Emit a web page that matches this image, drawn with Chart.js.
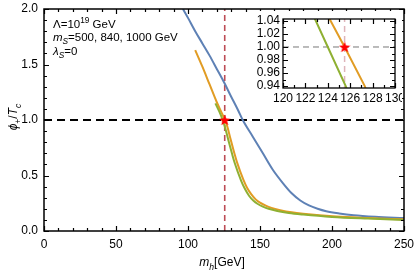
<!DOCTYPE html>
<html>
<head>
<meta charset="utf-8">
<script src="https://cdn.jsdelivr.net/npm/chart.js@4.4.1/dist/chart.umd.min.js"></script>
<style>
  html, body { margin: 0; padding: 0; background: #fff; }
  #wrap { position: relative; width: 415px; height: 274px; }
  #mainChart { position: absolute; left: 0; top: 0; }
  #insetBox { position: absolute; left: 252px; top: 11px; width: 150px; height: 92px; background: #fff; overflow: hidden; }
</style>
</head>
<body>
<div id="wrap">
  <canvas id="mainChart" width="415" height="274"></canvas>
  <div id="insetBox"><canvas id="insetChart" width="150" height="92"></canvas></div>
</div>
<script>
// curves (m_h in GeV, phi+/Tc)
const blueX   = [96.5, 100, 105, 110, 115, 120, 125, 130, 134.7, 138, 145, 152, 159, 166, 172, 178, 184, 190, 196, 205, 215, 230, 250] ;
const blueY   = [2.0, 1.92, 1.80, 1.69, 1.58, 1.46, 1.34, 1.21, 1.09, 1.0, 0.85, 0.70, 0.55, 0.43, 0.34, 0.275, 0.23, 0.20, 0.178, 0.158, 0.142, 0.128, 0.116] ;
const orangeX = [105, 110, 115, 120, 124.1, 125.5, 127.3, 129.5, 132, 134, 138.5, 141, 144, 147, 150, 154, 158, 164, 172, 180, 203, 225, 250] ;
const orangeY = [1.63, 1.48, 1.32, 1.16, 1.045, 1.0, 0.94, 0.83, 0.71, 0.62, 0.46, 0.39, 0.33, 0.285, 0.255, 0.228, 0.208, 0.188, 0.168, 0.155, 0.13, 0.117, 0.105] ;
const greenX  = [119, 122.8, 124.0, 125.6, 128, 130.5, 132.5, 137, 139.5, 142.5, 145.5, 148.5, 152, 156, 162, 170, 180, 200, 225, 250] ;
const greenY  = [1.15, 1.045, 1.0, 0.94, 0.82, 0.70, 0.61, 0.45, 0.38, 0.315, 0.272, 0.243, 0.22, 0.20, 0.18, 0.162, 0.148, 0.127, 0.112, 0.10] ;

// reference lines and the marked point
const higgsMass = 125.5 ;
const refY = 1.0 ;
const starX = [125.5] ;
const starY = [1.0] ;

// axis ticks
const xTicksMain = [0, 50, 100, 150, 200, 250] ;
const yTicksMain = [0, 0.5, 1.0, 1.5, 2.0] ;
const xTicksInset = [120, 122, 124, 126, 128, 130] ;
const yTicksInset = [0.94, 0.96, 0.98, 1.00, 1.02, 1.04] ;

const BLUE = '#5e81b5' ;
const ORANGE = '#e19c24' ;
const GREEN = '#8fb032' ;
const FONT = '"Liberation Sans", Arial, Helvetica, sans-serif' ;

function toPoints(xs, ys) {
    return xs.map((x, i) => ({x: x, y: ys[i]})) ;
}

// filled red star for the point marker
function makeStar(size) {
    const c = document.createElement('canvas') ;
    c.width = size ; c.height = size ;
    const g = c.getContext('2d') ;
    const cx = size / 2, cy = size / 2 + 0.5 ;
    const R = size / 2, r = R * 0.42 ;
    g.beginPath() ;
    for (let i = 0; i < 10; i++) {
        const rad = i % 2 === 0 ? R : r ;
        const a = -Math.PI / 2 + i * Math.PI / 5 ;
        const px = cx + rad * Math.cos(a), py = cy + rad * Math.sin(a) ;
        if (i === 0) g.moveTo(px, py) ; else g.lineTo(px, py) ;
    }
    g.closePath() ;
    g.fillStyle = '#ff0000' ;
    g.fill() ;
    return c ;
}

function curve(label, xs, ys, color) {
    return {
        label: label,
        data: toPoints(xs, ys),
        borderColor: color,
        borderWidth: 2,
        pointRadius: 0,
        showLine: true,
        cubicInterpolationMode: 'monotone',
        clip: 0,
    } ;
}

// draws a string with italic / sub / sup pieces
function richText(ctx, parts, x, y, size, align) {
    let w = 0 ;
    parts.forEach(p => {
        const s = p.sub || p.sup ? size * 0.72 : size ;
        ctx.font = (p.italic ? 'italic ' : '') + s + 'px ' + FONT ;
        p.w = ctx.measureText(p.t).width ;
        w += p.w ;
    }) ;
    let cx = align === 'center' ? x - w / 2 : x ;
    ctx.textAlign = 'left' ;
    ctx.textBaseline = 'alphabetic' ;
    parts.forEach(p => {
        const s = p.sub || p.sup ? size * 0.72 : size ;
        ctx.font = (p.italic ? 'italic ' : '') + s + 'px ' + FONT ;
        let dy = 0 ;
        if (p.sub) dy = size * 0.3 ;
        if (p.sup) dy = -size * 0.42 ;
        ctx.fillText(p.t, cx, y + dy) ;
        cx += p.w ;
    }) ;
}

// frame with inward ticks on all four sides
function frameTicks(chart, xMajor, xMinor, yMajor, yMinor, lw) {
    const ctx = chart.ctx ;
    const a = chart.chartArea ;
    const xs = chart.scales.x, ys = chart.scales.y ;
    const px = v => a.left + (v - xs.min) / (xs.max - xs.min) * (a.right - a.left) ;
    const py = v => a.bottom - (v - ys.min) / (ys.max - ys.min) * (a.bottom - a.top) ;
    ctx.save() ;
    ctx.setLineDash([]) ;
    ctx.strokeStyle = '#000000' ;
    ctx.lineWidth = 1.2 ;
    ctx.beginPath() ;
    const tickX = (v, len) => {
        const p = Math.round(px(v)) + 0.5 ;
        ctx.moveTo(p, a.bottom) ; ctx.lineTo(p, a.bottom - len) ;
        ctx.moveTo(p, a.top) ; ctx.lineTo(p, a.top + len) ;
    } ;
    const tickY = (v, len) => {
        const p = Math.round(py(v)) + 0.5 ;
        ctx.moveTo(a.left, p) ; ctx.lineTo(a.left + len, p) ;
        ctx.moveTo(a.right, p) ; ctx.lineTo(a.right - len, p) ;
    } ;
    for (const v of xMinor) tickX(v, 3) ;
    for (const v of xMajor) tickX(v, 5) ;
    for (const v of yMinor) tickY(v, 3) ;
    for (const v of yMajor) tickY(v, 5) ;
    ctx.stroke() ;
    ctx.lineWidth = lw ;
    ctx.strokeRect(a.left, a.top, a.right - a.left, a.bottom - a.top) ;
    ctx.restore() ;
}

function range(a, b, step) {
    const out = [] ;
    const n = Math.round((b - a) / step) ;
    for (let i = 0; i <= n; i++) out.push(a + i * step) ;
    return out ;
}

const mainDecor = {
    id: 'mainDecor',
    afterDraw(chart) {
        frameTicks(chart, xTicksMain, range(0, 250, 10), yTicksMain, range(0, 2, 0.1), 1.5) ;
        const ctx = chart.ctx ;
        ctx.save() ;
        ctx.fillStyle = '#000' ;
        richText(ctx, [{t: 'Λ=10'}, {t: '19', sup: true}, {t: ' GeV'}], 53, 28, 11.5, 'left') ;
        richText(ctx, [{t: 'm', italic: true}, {t: 'S', italic: true, sub: true}, {t: '=500, 840, 1000 GeV'}], 53, 41, 11.5, 'left') ;
        richText(ctx, [{t: 'λ', italic: true}, {t: 'S', italic: true, sub: true}, {t: '=0'}], 53, 55, 11.5, 'left') ;
        richText(ctx, [{t: 'm', italic: true}, {t: 'h', italic: true, sub: true}, {t: '[GeV]'}], 222, 266, 12, 'center') ;
        ctx.translate(17, 117) ;
        ctx.rotate(-Math.PI / 2) ;
        richText(ctx, [{t: 'ϕ', italic: true}, {t: '+', sub: true}, {t: '/'}, {t: 'T', italic: true}, {t: 'c', italic: true, sub: true}], 0, 0, 12, 'center') ;
        ctx.restore() ;
    }
} ;

const insetDecor = {
    id: 'insetDecor',
    afterDraw(chart) {
        frameTicks(chart, xTicksInset, range(120, 130, 1), yTicksInset, range(0.94, 1.04, 0.01), 1.3) ;
    }
} ;

// stop the tick labels from pushing the plot area inward
const noPadX = s => { s.paddingLeft = 0 ; s.paddingRight = 0 ; } ;
const noPadY = s => { s.paddingTop = 0 ; s.paddingBottom = 0 ; } ;

const starImg = makeStar(12) ;

new Chart(document.getElementById('mainChart'), {
    type: 'scatter',
    data: {
        datasets: [
            {data: toPoints(starX, starY), pointStyle: starImg, pointRadius: 6, showLine: false, order: 0, clip: false},
            Object.assign(curve('green', greenX, greenY, GREEN), {order: 1}),
            Object.assign(curve('orange', orangeX, orangeY, ORANGE), {order: 2}),
            Object.assign(curve('blue', blueX, blueY, BLUE), {order: 3}),
            {data: toPoints([0, 250], [refY, refY]), borderColor: '#000', borderWidth: 2, borderDash: [8, 5], pointRadius: 0, showLine: true, order: 4, clip: 0},
            {data: toPoints([higgsMass, higgsMass], [0, 2]), borderColor: '#bd4c55', borderWidth: 1.6, borderDash: [6, 4], pointRadius: 0, showLine: true, order: 5, clip: 0},
        ]
    },
    options: {
        responsive: false,
        animation: false,
        events: [],
        layout: {padding: {left: 0, top: 9, right: 11, bottom: 0}},
        plugins: {legend: {display: false}, tooltip: {enabled: false}},
        scales: {
            x: {
                type: 'linear', min: 0, max: 250,
                grid: {display: false, drawTicks: false},
                border: {display: false},
                afterBuildTicks: s => { s.ticks = xTicksMain.map(v => ({value: v})) ; },
                afterFit: s => { s.height = 43 ; noPadX(s) ; },
                ticks: {padding: 6, color: '#000', font: {family: FONT, size: 12}, maxRotation: 0, autoSkip: false,
                        callback: v => String(v)}
            },
            y: {
                min: 0, max: 2,
                grid: {display: false, drawTicks: false},
                border: {display: false},
                afterBuildTicks: s => { s.ticks = yTicksMain.map(v => ({value: v})) ; },
                afterFit: s => { s.width = 44 ; noPadY(s) ; },
                ticks: {padding: 6, color: '#000', font: {family: FONT, size: 12}, autoSkip: false,
                        callback: v => Number(v).toFixed(1)}
            }
        }
    },
    plugins: [mainDecor]
});

new Chart(document.getElementById('insetChart'), {
    type: 'scatter',
    data: {
        datasets: [
            {data: toPoints(starX, starY), pointStyle: starImg, pointRadius: 6, showLine: false, order: 0, clip: false},
            Object.assign(curve('green', greenX, greenY, GREEN), {order: 1, cubicInterpolationMode: 'default', tension: 0}),
            Object.assign(curve('orange', orangeX, orangeY, ORANGE), {order: 2, cubicInterpolationMode: 'default', tension: 0}),
            {data: toPoints([120, 130], [refY, refY]), borderColor: '#777', borderWidth: 1, borderDash: [6, 4], pointRadius: 0, showLine: true, order: 4, clip: 0},
            {data: toPoints([higgsMass, higgsMass], [0.9, 1.1]), borderColor: 'rgba(200,130,140,0.6)', borderWidth: 1.5, borderDash: [6, 4], pointRadius: 0, showLine: true, order: 5, clip: 0},
        ]
    },
    options: {
        responsive: false,
        animation: false,
        events: [],
        layout: {padding: {left: 0, top: 8, right: 6, bottom: 0}},
        plugins: {legend: {display: false}, tooltip: {enabled: false}},
        scales: {
            x: {
                type: 'linear', min: 120, max: 130,
                grid: {display: false, drawTicks: false},
                border: {display: false},
                afterBuildTicks: s => { s.ticks = xTicksInset.map(v => ({value: v})) ; },
                afterFit: s => { s.height = 15 ; noPadX(s) ; },
                ticks: {padding: 3, color: '#000', font: {family: FONT, size: 12}, maxRotation: 0, autoSkip: false,
                        callback: v => String(v)}
            },
            y: {
                min: 0.937, max: 1.043,
                grid: {display: false, drawTicks: false},
                border: {display: false},
                afterBuildTicks: s => { s.ticks = yTicksInset.map(v => ({value: v})) ; },
                afterFit: s => { s.width = 31 ; noPadY(s) ; },
                ticks: {padding: 3, color: '#000', font: {family: FONT, size: 12}, autoSkip: false,
                        callback: v => Number(v).toFixed(2)}
            }
        }
    },
    plugins: [insetDecor]
});
</script>
</body>
</html>
